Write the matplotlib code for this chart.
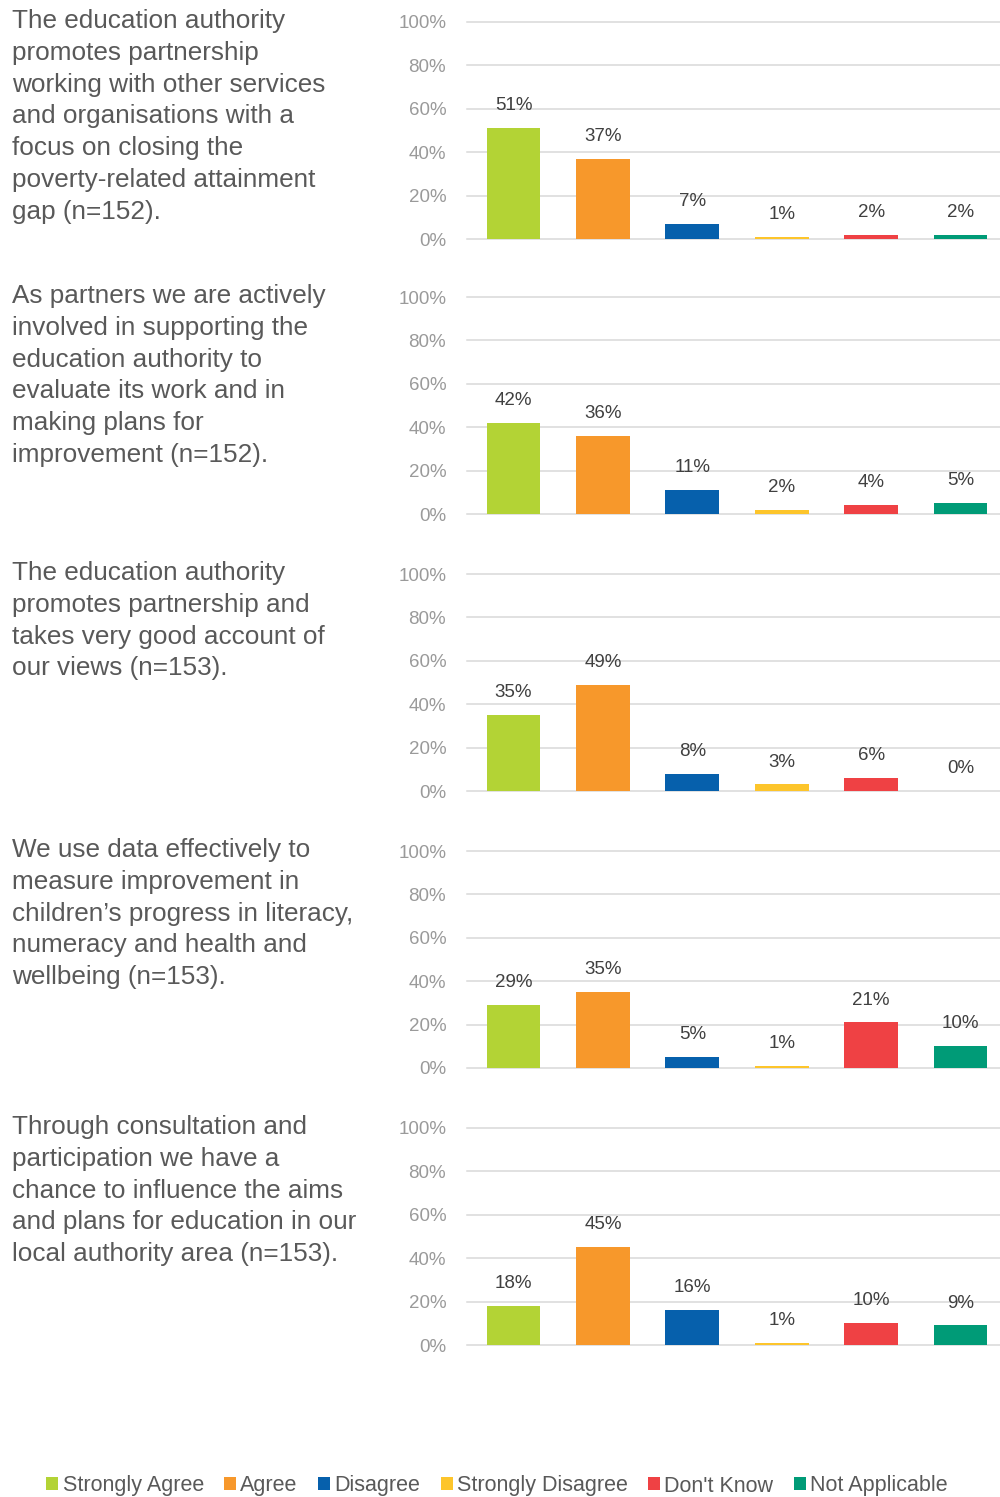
import numpy as np
import matplotlib
matplotlib.use("Agg")
import matplotlib.pyplot as plt
from matplotlib.patches import Patch

plt.rcParams['font.family'] = ['Liberation Sans', 'DejaVu Sans']

# ------------------------------------------------------------
# data
# ------------------------------------------------------------
categories = ["Strongly Agree", "Agree", "Disagree",
              "Strongly Disagree", "Don't Know", "Not Applicable"]
colors = ["#B3D335", "#F7982B", "#0660AC", "#FDC52B", "#EF4144", "#009B77"]

questions = [
    "The education authority\npromotes partnership\nworking with other services\n"
    "and organisations with a\nfocus on closing the\npoverty-related attainment\ngap (n=152).",
    "As partners we are actively\ninvolved in supporting the\neducation authority to\n"
    "evaluate its work and in\nmaking plans for\nimprovement (n=152).",
    "The education authority\npromotes partnership and\ntakes very good account of\n"
    "our views (n=153).",
    "We use data effectively to\nmeasure improvement in\nchildren\u2019s progress in literacy,\n"
    "numeracy and health and\nwellbeing (n=153).",
    "Through consultation and\nparticipation we have a\nchance to influence the aims\n"
    "and plans for education in our\nlocal authority area (n=153).",
]

q1 = [51, 37, 7, 1, 2, 2]
q2 = [42, 36, 11, 2, 4, 5]
q3 = [35, 49, 8, 3, 6, 0]
q4 = [29, 35, 5, 1, 21, 10]
q5 = [18, 45, 16, 1, 10, 9]
values = [q1, q2, q3, q4, q5]

yticks = [0, 20, 40, 60, 80, 100]
ytick_labels = ["0%", "20%", "40%", "60%", "80%", "100%"]

# ------------------------------------------------------------
# figure
# ------------------------------------------------------------
W, H = 1000, 1497
fig = plt.figure(figsize=(W / 100, H / 100), dpi=100)

ax_left, ax_right = 467, 1000
ax_tops = [22, 297, 574, 851, 1128]
ax_h = 217
step = 89.4  # px per category

x = np.arange(len(categories))
for i, vals in enumerate(values):
    top = ax_tops[i]
    ax = fig.add_axes([ax_left / W, 1 - (top + ax_h) / H,
                       (ax_right - ax_left) / W, ax_h / H])
    ax.bar(x, vals, width=0.6, color=colors, zorder=3)
    ax.set_xlim(-0.52, -0.52 + (ax_right - ax_left) / step)
    ax.set_ylim(0, 100)
    ax.set_yticks(yticks)
    ax.set_yticklabels(ytick_labels)
    ax.set_xticks([])
    ax.tick_params(axis="y", length=0, pad=15, labelsize=13.5, labelcolor="#9a9a9a")
    for s in ax.spines.values():
        s.set_visible(False)
    ax.yaxis.grid(True, color="#d9d9d9", linewidth=1.1, zorder=0)
    for g in ax.yaxis.get_gridlines():
        g.set_clip_on(False)
    for xi, v in zip(x, vals):
        ax.annotate(f"{v}%", (xi, v), xytext=(0, 10), textcoords="offset points",
                    ha="center", va="bottom", fontsize=13.5, color="#404040")

    fig.text(12 / W, 1 - 9 / H - (top - 22) / H, questions[i],
             ha="left", va="top", fontsize=18.8, color="#595959", linespacing=1.41)

# ------------------------------------------------------------
# legend
# ------------------------------------------------------------
handles = [Patch(facecolor=c, edgecolor="none") for c in colors]
fig.legend(handles, categories, loc="center", bbox_to_anchor=(0.497, 1 - 1486 / H),
           ncol=6, frameon=False, fontsize=15.5, labelcolor="#595959",
           handlelength=0.55, handleheight=0.55, handletextpad=0.2,
           columnspacing=0.95, borderpad=0)

fig.savefig("out.png", dpi=100)
